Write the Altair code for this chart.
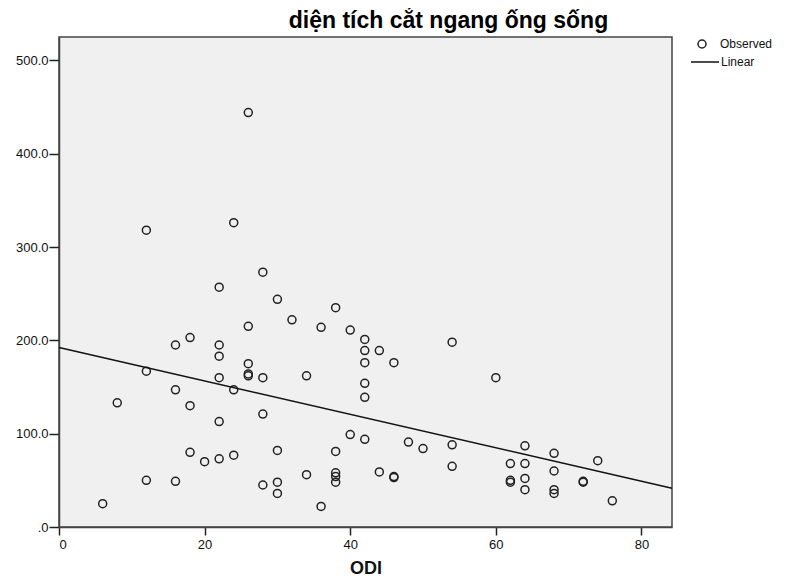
import altair as alt
import pandas as pd

# Observed points (ODI vs. spinal canal cross-sectional area)
odi = [26, 12, 24, 28, 22, 30, 38, 32, 26, 36,
       40, 42, 18, 54, 16, 22, 22, 42, 44, 46,
       42, 26, 26, 26, 28, 22, 34, 60, 12, 16,
       24, 8, 18, 28, 42, 42, 22, 40, 42, 48,
       50, 54, 38, 30, 64, 68, 74, 18, 24, 22,
       20, 62, 64, 54, 68, 34, 44, 38, 38, 38,
       46, 46, 62, 62, 64, 72, 72, 12, 16, 30,
       28, 64, 68, 68, 30, 76, 6, 36]
area = [444, 318, 326, 273, 257, 244, 235, 222, 215, 214,
        211, 201, 203, 198, 195, 195, 183, 189, 189, 176,
        176, 175, 164, 162, 160, 160, 162, 160, 167, 147,
        147, 133, 130, 121, 139, 154, 113, 99, 94, 91,
        84, 88, 81, 82, 87, 79, 71, 80, 77, 73,
        70, 68, 68, 65, 60, 56, 59, 58, 54, 48,
        54, 53, 50, 48, 52, 49, 48, 50, 49, 48,
        45, 40, 40, 36, 36, 28, 25, 22]

# Linear fit line endpoints
fit_x = [0, 84.2]
fit_y = [192.4, 41.5]

x_ticks = [0, 20, 40, 60, 80]
y_ticks = [0, 100, 200, 300, 400, 500]

pts = pd.DataFrame({"odi": odi, "area": area, "s": ["Observed"] * len(odi)})
fit = pd.DataFrame({"odi": fit_x, "area": fit_y, "l": ["Linear"] * len(fit_x)})

FONT = "Liberation Sans"

x_enc = alt.X(
    "odi:Q",
    scale=alt.Scale(domain=[0, 84.2], nice=False, zero=False),
    axis=alt.Axis(
        values=x_ticks, title="ODI", grid=False, tickSize=8, labelPadding=3,
        labelFont=FONT, labelFontSize=13, labelColor="#111",
        titleFont=FONT, titleFontSize=18, titleFontWeight="bold", titleColor="#111",
        titlePadding=8, domainColor="#444", domainWidth=1.5, tickColor="#222",
        tickWidth=1.5, format="d",
    ),
)
y_enc = alt.Y(
    "area:Q",
    scale=alt.Scale(domain=[0, 525], nice=False, zero=False),
    axis=alt.Axis(
        values=y_ticks, title=None, grid=False, tickSize=10, labelPadding=1,
        labelFont=FONT, labelFontSize=13, labelColor="#111",
        labelExpr="datum.value == 0 ? '.0' : format(datum.value, '.1f')",
        domainColor="#444", domainWidth=1.5, tickColor="#222", tickWidth=1.5,
    ),
)

points = alt.Chart(pts).mark_point(
    filled=False, size=64, strokeWidth=1.5, color="#222", opacity=1
).encode(
    x=x_enc,
    y=y_enc,
    shape=alt.Shape(
        "s:N",
        scale=alt.Scale(domain=["Observed"], range=["circle"]),
        legend=alt.Legend(
            title=None, orient="none", legendX=637, legendY=1, padding=0,
            symbolSize=64, symbolStrokeWidth=1.5, symbolStrokeColor="#222",
            symbolFillColor="transparent", labelFont=FONT, labelFontSize=12,
            labelColor="#111", labelOffset=12,
        ),
    ),
)

line = alt.Chart(fit).mark_line(strokeWidth=1.5).encode(
    x="odi:Q",
    y="area:Q",
    color=alt.Color(
        "l:N",
        scale=alt.Scale(domain=["Linear"], range=["#111"]),
        legend=alt.Legend(
            title=None, orient="none", legendX=631, legendY=10, padding=0,
            symbolType="stroke", symbolSize=784, symbolStrokeWidth=1.5,
            labelFont=FONT, labelFontSize=12, labelColor="#111", labelOffset=1,
        ),
    ),
)

chart = alt.layer(points, line).resolve_legend(shape="independent", color="independent").properties(
    width=613,
    height=490,
    padding={"left": 51, "top": 29, "right": 105, "bottom": 51},
    autosize=alt.AutoSizeParams(type="none"),
    background="white",
    title=alt.TitleParams(
        "diện tích cắt ngang ống sống", anchor="middle", dx=83, fontSize=23,
        font=FONT, fontWeight="bold", color="#000", offset=4,
    ),
).configure_view(fill="#f0f0f0", stroke="#444", strokeWidth=1.5)

chart.save("out.html", embed_options={"renderer": "svg", "actions": False})
